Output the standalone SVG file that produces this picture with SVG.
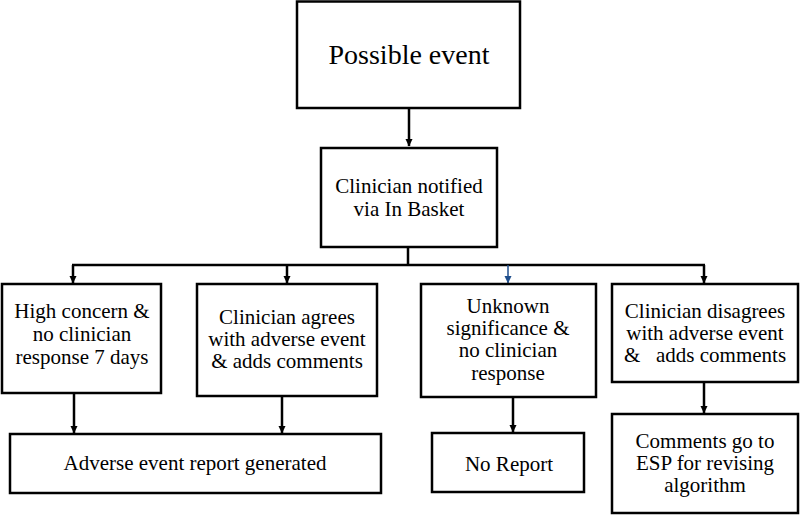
<svg xmlns="http://www.w3.org/2000/svg" width="800" height="515" viewBox="0 0 800 515">
<style>
.box{fill:#fff;stroke:#000;stroke-width:2.5}
.t{font-family:"Liberation Serif","DejaVu Serif","Times New Roman",serif;font-size:21px;fill:#000;text-anchor:middle}
.big{font-size:28px}
.ln{fill:none;stroke:#000;stroke-width:2.5}
</style>
<defs>
<marker id="ah" markerWidth="8" markerHeight="8" refX="7" refY="4" orient="auto" markerUnits="userSpaceOnUse">
<path d="M0,0.5 L7.5,4 L0,7.5 Z" fill="#000"/>
</marker>
<marker id="ahb" markerWidth="8" markerHeight="8" refX="7" refY="4" orient="auto" markerUnits="userSpaceOnUse">
<path d="M0,0.5 L7.5,4 L0,7.5 Z" fill="#1f4e8c"/>
</marker>
</defs>
<g id="connectors">
<line class="ln" x1="409" y1="108" x2="409" y2="146" marker-end="url(#ah)"/>
<line class="ln" x1="408" y1="247" x2="408" y2="265"/>
<line class="ln" x1="72" y1="265" x2="705" y2="265"/>
<line class="ln" x1="73" y1="265" x2="73" y2="283" marker-end="url(#ah)"/>
<line class="ln" x1="287" y1="265" x2="287" y2="283" marker-end="url(#ah)"/>
<line x1="508" y1="265" x2="508" y2="283" stroke="#1f4e8c" stroke-width="1.5" marker-end="url(#ahb)"/>
<line class="ln" x1="704" y1="265" x2="704" y2="283" marker-end="url(#ah)"/>
<line class="ln" x1="74" y1="393" x2="74" y2="433" marker-end="url(#ah)"/>
<line class="ln" x1="282" y1="396" x2="282" y2="433" marker-end="url(#ah)"/>
<line class="ln" x1="513" y1="397" x2="513" y2="432" marker-end="url(#ah)"/>
<line class="ln" x1="704" y1="382" x2="704" y2="413" marker-end="url(#ah)"/>
</g>
<g id="possible-event">
<rect class="box" x="297" y="1.5" width="223" height="106.5"/>
<text class="t big" x="409" y="64">Possible event</text>
</g>
<g id="clinician-notified">
<rect class="box" x="321" y="148" width="176" height="99"/>
<text class="t" x="409" y="193">Clinician notified</text>
<text class="t" x="409" y="216">via In Basket</text>
</g>
<g id="high-concern">
<rect class="box" x="2" y="284" width="159" height="109"/>
<text class="t" x="82" y="318">High concern &amp;</text>
<text class="t" x="82" y="341">no clinician</text>
<text class="t" x="82" y="364">response 7 days</text>
</g>
<g id="clinician-agrees">
<rect class="box" x="197" y="284" width="180" height="112"/>
<text class="t" x="287" y="324">Clinician agrees</text>
<text class="t" x="287" y="346">with adverse event</text>
<text class="t" x="287" y="368">&amp; adds comments</text>
</g>
<g id="unknown-significance">
<rect class="box" x="421" y="284" width="175" height="113"/>
<text class="t" x="508" y="313">Unknown</text>
<text class="t" x="508" y="335">significance &amp;</text>
<text class="t" x="508" y="357">no clinician</text>
<text class="t" x="508" y="380">response</text>
</g>
<g id="clinician-disagrees">
<rect class="box" x="612" y="284" width="186" height="98"/>
<text class="t" x="705" y="318">Clinician disagrees</text>
<text class="t" x="705" y="340">with adverse event</text>
<text class="t" x="705" y="362" style="white-space:pre" xml:space="preserve">&amp;   adds comments</text>
</g>
<g id="adverse-report">
<rect class="box" x="10" y="434" width="371" height="59"/>
<text class="t" x="195" y="470">Adverse event report generated</text>
</g>
<g id="no-report">
<rect class="box" x="432" y="433" width="152" height="59"/>
<text class="t" x="509" y="471">No Report</text>
</g>
<g id="comments-esp">
<rect class="box" x="612" y="414" width="186" height="99"/>
<text class="t" x="705" y="448">Comments go to</text>
<text class="t" x="705" y="470">ESP for revising</text>
<text class="t" x="705" y="492">algorithm</text>
</g>
</svg>
